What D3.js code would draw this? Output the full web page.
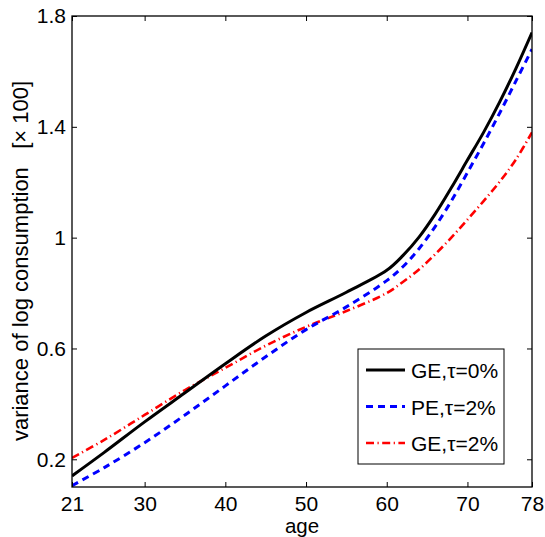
<!DOCTYPE html>
<html>
<head>
<meta charset="utf-8">
<script src="https://cdn.jsdelivr.net/npm/d3@7"></script>
<style>
    body { margin: 0; background: #fff; }
    text { font-family: "Liberation Sans", Arial, sans-serif; }
</style>
</head>
<body>
<div id="chart"></div>
<script>
var ages = [21, 25, 30, 35, 40, 45, 50, 55, 60, 62, 64, 66, 68, 70, 72, 74, 76, 78];

var geTau0 = [0.140, 0.225, 0.335, 0.440, 0.545, 0.645, 0.730, 0.803, 0.882, 0.935, 1.002, 1.085, 1.180, 1.280, 1.380, 1.490, 1.610, 1.740];
var peTau2 = [0.105, 0.170, 0.260, 0.360, 0.465, 0.570, 0.668, 0.750, 0.845, 0.895, 0.960, 1.040, 1.132, 1.235, 1.340, 1.450, 1.565, 1.680];
var geTau2 = [0.205, 0.270, 0.360, 0.450, 0.530, 0.610, 0.678, 0.735, 0.800, 0.840, 0.885, 0.940, 1.000, 1.065, 1.132, 1.202, 1.282, 1.380];

var xTicks = [21, 30, 40, 50, 60, 70, 78];
var yTicks = [0.2, 0.6, 1, 1.4, 1.8];

var seriesNames = ["GE,\u03c4=0%", "PE,\u03c4=2%", "GE,\u03c4=2%"];
var seriesValues = [geTau0, peTau2, geTau2];

var svgWidth = 545,
    svgHeight = 537;
var margin = {top: 16, right: 13, bottom: 50, left: 72};
var width = svgWidth - margin.left - margin.right,
    height = svgHeight - margin.top - margin.bottom;

var styles = [
    {color: "#000000", dash: null, width: 3},
    {color: "#0000ff", dash: "7,5", width: 3},
    {color: "#ff0000", dash: "8,3.5,1.2,3.5", width: 2.6}
];

var svg = d3.select("#chart")
    .append("svg")
    .attr("width", svgWidth)
    .attr("height", svgHeight);

var g = svg.append("g")
    .attr("transform", "translate(" + margin.left + "," + margin.top + ")");

var xScale = d3.scaleLinear().domain([21, 78]).range([0, width]);
var yScale = d3.scaleLinear().domain([0.1, 1.8]).range([height, 0]);

g.append("clipPath")
    .attr("id", "plotClip")
    .append("rect")
    .attr("width", width)
    .attr("height", height);

var line = d3.line()
    .x(function (d, i) { return xScale(ages[i]); })
    .y(function (d) { return yScale(d); })
    .curve(d3.curveCatmullRom.alpha(0.5));

// draw the three curves, red first so black ends on top
[2, 1, 0].forEach(function (k) {
    g.append("path")
        .datum(seriesValues[k])
        .attr("clip-path", "url(#plotClip)")
        .attr("fill", "none")
        .attr("stroke", styles[k].color)
        .attr("stroke-width", styles[k].width)
        .attr("stroke-dasharray", styles[k].dash)
        .attr("d", line);
});

// axes with inward ticks, mirrored on top and right like matlab
var tickSize = 5;
var fmtY = function (d) { return d3.format("")(+d.toFixed(1)); };

var bottomAxis = g.append("g")
    .attr("transform", "translate(0," + height + ")")
    .call(d3.axisBottom(xScale).tickValues(xTicks).tickSizeInner(-tickSize).tickSizeOuter(0).tickPadding(9));
var topAxis = g.append("g")
    .call(d3.axisTop(xScale).tickValues(xTicks).tickSizeInner(-tickSize).tickSizeOuter(0).tickFormat(""));
var leftAxis = g.append("g")
    .call(d3.axisLeft(yScale).tickValues(yTicks).tickSizeInner(-tickSize).tickSizeOuter(0).tickPadding(6).tickFormat(fmtY));
var rightAxis = g.append("g")
    .attr("transform", "translate(" + width + ",0)")
    .call(d3.axisRight(yScale).tickValues(yTicks).tickSizeInner(-tickSize).tickSizeOuter(0).tickFormat(""));

[bottomAxis, topAxis, leftAxis, rightAxis].forEach(function (a) {
    a.select(".domain").remove();
    a.selectAll("line").attr("stroke", "#000").attr("stroke-width", 1);
    a.selectAll("text")
        .attr("fill", "#000")
        .style("font-size", "21px")
        .style("font-family", "'Liberation Sans', Arial, sans-serif");
});

g.append("rect")
    .attr("width", width)
    .attr("height", height)
    .attr("fill", "none")
    .attr("stroke", "#000")
    .attr("stroke-width", 1.3);

// axis labels
svg.append("text")
    .attr("x", margin.left + width / 2)
    .attr("y", 533)
    .attr("text-anchor", "middle")
    .style("font-size", "20.5px")
    .text("age");

svg.append("text")
    .attr("transform", "translate(28," + 261 + ") rotate(-90)")
    .attr("text-anchor", "middle")
    .style("font-size", "22px")
    .attr("xml:space", "preserve")
    .text("variance of log consumption   [\u00d7 100]");

// legend
var legend = svg.append("g")
    .attr("transform", "translate(358,349)");

legend.append("rect")
    .attr("width", 146)
    .attr("height", 115)
    .attr("fill", "#fff")
    .attr("stroke", "#000")
    .attr("stroke-width", 1);

seriesNames.forEach(function (name, k) {
    var rowY = 21 + k * 36.5;
    legend.append("line")
        .attr("x1", 8)
        .attr("x2", 47)
        .attr("y1", rowY)
        .attr("y2", rowY)
        .attr("stroke", styles[k].color)
        .attr("stroke-width", styles[k].width)
        .attr("stroke-dasharray", styles[k].dash);
    legend.append("text")
        .attr("x", 53)
        .attr("y", rowY + 8)
        .style("font-size", "21px")
        .text(name);
});
</script>
</body>
</html>
